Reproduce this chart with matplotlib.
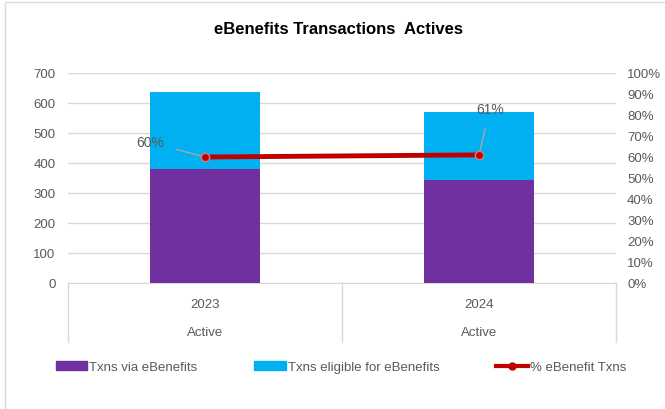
import matplotlib
matplotlib.use("Agg")
import matplotlib.pyplot as plt
from matplotlib.patches import Patch, Rectangle
from matplotlib.lines import Line2D

# data
years = ["2023", "2024"]
group = ["Active", "Active"]
via_ebenefits = [380, 344]
eligible = [636, 569]
pct_ebenefit = [0.60, 0.61]
pct_labels = ["60%", "61%"]

plt.rcParams['font.family'] = ['Liberation Sans', 'DejaVu Sans']

purple = "#7030A0"
cyan = "#00B0F0"
red = "#C00000"
grey_txt = "#595959"

fig = plt.figure(figsize=(6.65, 4.10), dpi=100)
fig.patches.append(Rectangle((5 / 665, -0.01), 1.0, 1 - 3 / 410 + 0.01, transform=fig.transFigure,
                             fill=False, edgecolor="#d9d9d9", linewidth=1.0))

ax = fig.add_axes([68 / 665, 1 - 284 / 410, 548 / 665, 210 / 410])
x = [0, 1]
ax.bar(x, eligible, width=0.40, color=cyan, zorder=2)
ax.bar(x, via_ebenefits, width=0.40, color=purple, zorder=3)
ax.set_xlim(-0.5, 1.5)
ax.set_ylim(0, 700)
ax.set_yticks(range(0, 701, 100))
ax.yaxis.grid(True, color="#d9d9d9", linewidth=1.0, zorder=0)
ax.set_axisbelow(True)
for s in ["top", "right", "left"]:
    ax.spines[s].set_visible(False)
ax.spines["bottom"].set_color("#d9d9d9")
ax.tick_params(axis="y", length=0, labelsize=9.5, labelcolor=grey_txt, pad=9)
ax.set_xticks([])

# category table below the axis
for xv in [-0.5, 0.5, 1.5]:
    ax.plot([xv, xv], [0, -0.281], transform=ax.get_xaxis_transform(), color="#d9d9d9",
            linewidth=1.0, clip_on=False)
for i in x:
    ax.text(i, -0.10, years[i], transform=ax.get_xaxis_transform(), ha="center", va="center",
            fontsize=9.5, color=grey_txt)
    ax.text(i, -0.233, group[i], transform=ax.get_xaxis_transform(), ha="center", va="center",
            fontsize=9.5, color=grey_txt)

ax2 = ax.twinx()
ax2.plot(x, pct_ebenefit, color=red, linewidth=3.5, marker="o", markersize=6,
         markerfacecolor=red, markeredgecolor="#d08080", zorder=5)
ax2.set_ylim(0, 1)
ax2.set_yticks([i / 10 for i in range(11)])
ax2.set_yticklabels([f"{i * 10}%" for i in range(11)])
for s in ["top", "right", "left", "bottom"]:
    ax2.spines[s].set_visible(False)
ax2.tick_params(axis="y", length=0, labelsize=9.5, labelcolor=grey_txt, pad=8)

# data labels with leader lines
offsets = [(-0.20, 0.07), (0.04, 0.22)]
for i in x:
    dx, dy = offsets[i]
    ax2.annotate(pct_labels[i], xy=(x[i], pct_ebenefit[i]), xytext=(x[i] + dx, pct_ebenefit[i] + dy),
                 ha="center", va="center", fontsize=10, color=grey_txt,
                 arrowprops=dict(arrowstyle="-", color="#a6a6a6", linewidth=1.0,
                                 shrinkA=7, shrinkB=3))

fig.text(338 / 665, 1 - 30 / 410, "eBenefits Transactions  Actives", ha="center", va="center",
         fontsize=12, fontweight="bold", color="black")

handles = [Patch(color=purple), Patch(color=cyan),
           Line2D([0], [0], color=red, linewidth=3, marker="o", markersize=5, markerfacecolor=red)]
labels = ["Txns via eBenefits", "Txns eligible for eBenefits", "% eBenefit Txns"]
fig.legend(handles, labels, loc="center", bbox_to_anchor=(341 / 665, 1 - 368 / 410), ncol=3,
           frameon=False, fontsize=9.5, labelcolor=grey_txt, handlelength=2.4, handleheight=0.6,
           handletextpad=0.15, columnspacing=4.3)

fig.savefig("out.png", dpi=100)
